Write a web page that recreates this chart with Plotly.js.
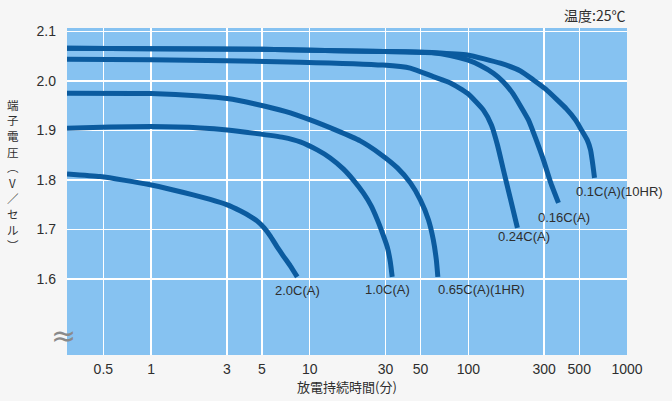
<!DOCTYPE html>
<html>
<head>
<meta charset="utf-8">
<script src="https://cdn.plot.ly/plotly-3.0.1.min.js"></script>
<style>html,body{margin:0;padding:0;background:#f6f6f6;}#chart{width:672px;height:401px;}</style>
</head>
<body>
<div id="chart"></div>
<script>
// ---- data (minutes, volts per cell) ----
const t_01C  = [0.295, 1, 5, 15, 37, 60, 98.6, 159, 213, 257, 306, 363, 415, 473, 516, 561, 589, 603, 615, 624];
const v_01C  = [2.066, 2.065, 2.064, 2.061, 2.059, 2.057, 2.0525, 2.0358, 2.0202, 2.002, 1.9838, 1.9616, 1.9434, 1.9212, 1.901, 1.8808, 1.8606, 1.8404, 1.820, 1.804];
const t_016C = [0.295, 1, 5, 15, 37, 60.1, 77, 98.6, 119, 143.8, 166.3, 189.6, 212.9, 239.1, 264.9, 297.3, 329, 369.8];
const v_016C = [2.066, 2.065, 2.064, 2.061, 2.059, 2.0572, 2.0515, 2.0424, 2.0313, 2.0156, 1.998, 1.9758, 1.9495, 1.9212, 1.8848, 1.8404, 1.796, 1.7535];
const t_024C = [0.295, 1, 8.7, 29, 43, 60.1, 77, 98.6, 124.4, 139.7, 152.4, 166.3, 184, 203.8];
const v_024C = [2.044, 2.043, 2.038, 2.032, 2.026, 2.0087, 1.996, 1.975, 1.941, 1.911, 1.871, 1.820, 1.762, 1.703];
const t_065C = [0.295, 1, 2.04, 3.02, 4.53, 7.0, 10.07, 14.5, 20.8, 27.8, 35.7, 43.1, 49.8, 56.0, 60.1, 62.8, 64.2];
const v_065C = [1.9752, 1.9745, 1.9697, 1.9646, 1.9535, 1.9384, 1.9212, 1.901, 1.8788, 1.8525, 1.8242, 1.7939, 1.7596, 1.7192, 1.6788, 1.6384, 1.604];
const t_10C  = [0.295, 0.551, 1, 2.04, 3.02, 4.53, 6.8, 8.71, 11.15, 13.46, 16.27, 18.8, 21.75, 24.4, 26.7, 28.7, 30.8, 32.2, 33.1];
const v_10C  = [1.9044, 1.9071, 1.9077, 1.905, 1.901, 1.894, 1.8859, 1.8768, 1.8606, 1.8444, 1.8222, 1.800, 1.7737, 1.7475, 1.7192, 1.693, 1.6646, 1.6343, 1.604];
const t_20C  = [0.295, 0.477, 0.685, 0.986, 1.357, 1.841, 2.357, 3.02, 3.64, 4.21, 4.73, 5.16, 5.63, 6.21, 6.8, 7.54, 8.34];
const v_20C  = [1.8121, 1.8067, 1.799, 1.790, 1.780, 1.7697, 1.7606, 1.7495, 1.7374, 1.7263, 1.7152, 1.703, 1.6869, 1.6653, 1.6465, 1.6263, 1.604];

const seriesNames = ['0.1C(A)(10HR)', '0.16C(A)', '0.24C(A)', '0.65C(A)(1HR)', '1.0C(A)', '2.0C(A)'];
const xTickVals = [0.5, 1, 3, 5, 10, 30, 50, 100, 300, 500, 1000];
const xTickText = ['0.5', '1', '3', '5', '10', '30', '50', '100', '300', '500', '1000'];
const yTickVals = [1.6, 1.7, 1.8, 1.9, 2.0, 2.1];
const yTickText = ['1.6', '1.7', '1.8', '1.9', '2.0', '2.1'];
const xTitle = '放電持続時間(分)';
const yTitleChars = ['端', '子', '電', '圧', '︵', 'V', '／', 'セ', 'ル', '︶'];
const tempNote = '温度:25℃';

const lineColor = '#0b5b9f';
const textColor = '#2e2e2e';
const FONT = 'Liberation Sans, Arial, Noto Sans CJK JP, sans-serif';

const xs = [t_01C, t_016C, t_024C, t_065C, t_10C, t_20C];
const ys = [v_01C, v_016C, v_024C, v_065C, v_10C, v_20C];
const traces = xs.map((x, i) => ({
  x: x, y: ys[i], name: seriesNames[i], type: 'scatter', mode: 'lines',
  line: {color: lineColor, width: 5, shape: 'spline', smoothing: 0.5},
  hoverinfo: 'x+y+name'
}));

// label positions (log10 minutes, volts)
const labelPos = [
  [2.953, 1.776], [2.60, 1.723], [2.353, 1.685], [2.082, 1.578], [1.489, 1.578], [0.921, 1.576]
];
const annotations = seriesNames.map((n, i) => ({
  text: n, x: labelPos[i][0], y: labelPos[i][1], xref: 'x', yref: 'y',
  showarrow: false, font: {family: FONT, size: 13, color: textColor}, xanchor: 'center', yanchor: 'middle'
}));

const plotTopPx = 28, plotBotPx = 355;
const py = v => (plotBotPx - v) / (plotBotPx - plotTopPx);

// vertical y-axis title (upright stacked characters)
const yStep = 15.6;
const yStart = 175 - yStep * (yTitleChars.length - 1) / 2;
yTitleChars.forEach((c, i) => {
  annotations.push({
    text: c, xref: 'paper', yref: 'paper', x: -0.097, y: py(yStart + i * yStep),
    xanchor: 'center', yanchor: 'middle', showarrow: false, borderpad: 0,
    font: {family: 'Noto Sans CJK JP, sans-serif', size: 11.5, color: textColor}
  });
});

annotations.push({
  text: tempNote, xref: 'paper', yref: 'paper', x: 1.0, y: py(15),
  xanchor: 'right', yanchor: 'middle', showarrow: false,
  font: {family: 'Noto Sans CJK JP, sans-serif', size: 14, color: textColor}
});
// axis break mark
annotations.push({
  text: '≈', xref: 'paper', yref: 'paper', x: -0.006, y: py(335),
  xanchor: 'center', yanchor: 'middle', showarrow: false,
  font: {family: 'DejaVu Sans, sans-serif', size: 30, color: '#8a8a8a'}
});

const layout = {
  width: 672, height: 401,
  margin: {l: 67, r: 45, t: 28, b: 46},
  paper_bgcolor: '#f6f6f6',
  plot_bgcolor: '#86c2f1',
  showlegend: false,
  font: {family: FONT, color: textColor},
  xaxis: {
    type: 'log', range: [Math.log10(0.295), 3],
    tickvals: xTickVals, ticktext: xTickText,
    showgrid: true, gridcolor: '#ffffff', gridwidth: 1.5,
    zeroline: false, showline: false, ticks: '',
    ticklabelstandoff: 4,
    tickfont: {family: FONT, size: 14, color: textColor},
    title: {text: xTitle, font: {family: 'Noto Sans CJK JP, sans-serif', size: 13, color: textColor}, standoff: 2},
    automargin: false, fixedrange: true
  },
  yaxis: {
    range: [1.446, 2.107],
    tickvals: yTickVals, ticktext: yTickText,
    showgrid: true, gridcolor: '#ffffff', gridwidth: 1.5,
    zeroline: false, showline: false, ticks: '',
    ticklabelstandoff: 10,
    tickfont: {family: FONT, size: 14, color: textColor},
    automargin: false, fixedrange: true
  },
  annotations: annotations
};

Plotly.newPlot('chart', traces, layout, {displayModeBar: false, staticPlot: true});
</script>
</body>
</html>
